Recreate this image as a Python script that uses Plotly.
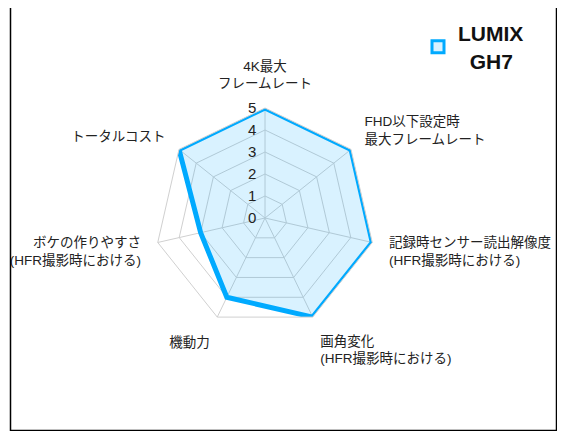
import plotly.graph_objects as go

categories = [
    "4K最大<br>フレームレート",
    "FHD以下設定時<br>最大フレームレート",
    "記録時センサー読出解像度<br>(HFR撮影時における)",
    "画角変化<br>(HFR撮影時における)",
    "機動力",
    "ボケの作りやすさ<br>(HFR撮影時における)",
    "トータルコスト",
]
scores = [5, 5, 5, 5, 4, 3, 5]
series_name = "<b>LUMIX</b><br>&nbsp;&nbsp;<b>GH7</b>"
radial_ticks = [0, 1, 2, 3, 4, 5]

FONT = "Liberation Sans, Noto Sans CJK JP, sans-serif"
OFF = 8  # page body margin
W, H = 565 - 2 * OFF, 439 - 2 * OFF


def px(x):
    return (x - OFF) / W


def py(y):
    return 1 - (y - OFF) / H


fig = go.Figure()
fig.add_trace(go.Scatterpolar(
    r=scores + scores[:1],
    theta=categories + categories[:1],
    mode="lines",
    fill="toself",
    fillcolor="rgba(0,170,255,0.15)",
    line=dict(color="#00aaff", width=5),
    name=series_name,
    showlegend=False,
))
# legend entry with a square swatch
fig.add_trace(go.Scatterpolar(
    r=[None], theta=[categories[0]],
    mode="markers",
    marker=dict(symbol="square", size=12, color="rgba(0,170,255,0.15)",
                line=dict(color="#00aaff", width=3)),
    name=series_name,
))

fig.update_layout(
    width=W, height=H,
    margin=dict(l=0, r=0, t=0, b=0),
    paper_bgcolor="white",
    font=dict(family=FONT, size=13.5, color="#222"),
    polar=dict(
        domain=dict(x=[px(155), px(375)], y=[py(328), py(108)]),
        bgcolor="rgba(0,0,0,0)",
        gridshape="linear",
        angularaxis=dict(
            direction="clockwise", rotation=90,
            showline=True, linecolor="#d0d0d0", linewidth=1,
            gridcolor="#d0d0d0",
            ticks="outside", ticklen=14, tickcolor="rgba(0,0,0,0)",
            tickfont=dict(size=13.5, color="#222"),
        ),
        radialaxis=dict(
            range=[0, 5], tickvals=radial_ticks, angle=90, tickangle=90,
            side="counterclockwise",
            showline=False, gridcolor="#d0d0d0",
            ticks="outside", ticklen=3, tickcolor="rgba(0,0,0,0)",
            tickfont=dict(size=15, color="#222"),
        ),
    ),
    legend=dict(
        x=px(418), y=py(13), xanchor="left", yanchor="top",
        font=dict(size=21, color="#111", family=FONT),
        bgcolor="rgba(0,0,0,0)",
    ),
    showlegend=True,
    shapes=[dict(
        type="rect", xref="paper", yref="paper",
        x0=px(10.5), x1=px(556.5), y0=py(430.5), y1=py(7),
        line=dict(color="black", width=1.5),
    )],
)

fig.write_html("out.html")
